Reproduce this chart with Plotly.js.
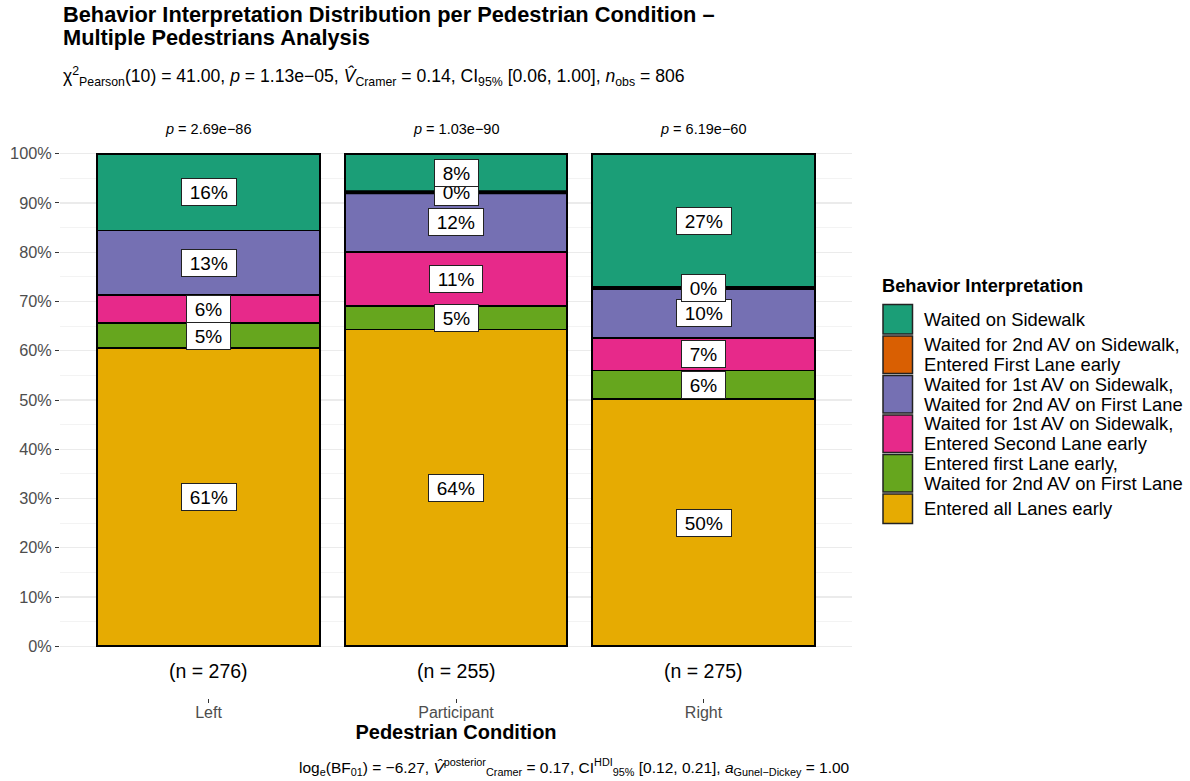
<!DOCTYPE html>
<html>
<head>
<meta charset="utf-8">
<script src="https://cdn.plot.ly/plotly-3.0.1.min.js"></script>
<style>html,body{margin:0;padding:0;background:#fff;}</style>
</head>
<body>
<div id="chart" style="width:1190px;height:781px;"></div>
<script>
// Pedestrian conditions on the x axis
const conditions = ['Left', 'Participant', 'Right'];

// Behaviour categories, stacked bottom to top ("\n" marks a line break in the legend)
const behaviours = [
  'Entered all Lanes early',
  'Entered first Lane early,\nWaited for 2nd AV on First Lane',
  'Waited for 1st AV on Sidewalk,\nEntered Second Lane early',
  'Waited for 1st AV on Sidewalk,\nWaited for 2nd AV on First Lane',
  'Waited for 2nd AV on Sidewalk,\nEntered First Lane early',
  'Waited on Sidewalk'
];

// Counts per condition (Left, Participant, Right); null = category not observed in that condition
const enteredAllLanesEarly      = [167, 164, 138];
const enteredFirstLaneEarly     = [14, 12, 16];
const enteredSecondLaneEarly    = [16, 28, 18];
const waitedFirstAvFirstLane    = [36, 31, 28];
const waitedSecondAvSidewalk    = [null, 0, 0];
const waitedOnSidewalk          = [43, 20, 75];

// One-sample proportion tests per condition
const pValues = ['2.69e\u221286', '1.03e\u221290', '6.19e\u221260'];

// Dark2 colours, same order as behaviours
const colours = ['#E6AB02', '#66A61E', '#E7298A', '#7570B3', '#D95F02', '#1B9E77'];

const countsByBehaviour = [
  enteredAllLanesEarly, enteredFirstLaneEarly, enteredSecondLaneEarly,
  waitedFirstAvFirstLane, waitedSecondAvSidewalk, waitedOnSidewalk
];

const totals = conditions.map((_, i) => countsByBehaviour.reduce((s, arr) => s + (arr[i] || 0), 0));
const xs = conditions.map((_, i) => i);
const BAR_W = 0.9;

// page geometry
const W = 1190, H = 781;
const M = {l: 60, r: 338, t: 102, b: 83};
const PW = W - M.l - M.r, PH = H - M.t - M.b;
const px = X => (X - M.l) / PW;
const py = Y => (H - M.b - Y) / PH;

const FONT = 'Liberation Sans, Arial, sans-serif';

const traces = [];
const annotations = [];
const cumulative = conditions.map(() => 0);
const zeroX = [], zeroY = [];

countsByBehaviour.forEach((counts, j) => {
  const share = counts.map((c, i) => (c === null ? null : c / totals[i]));
  traces.push({
    type: 'bar',
    x: xs,
    y: share,
    width: BAR_W,
    name: behaviours[j].replace('\n', ' '),
    marker: {color: colours[j], line: {color: '#000000', width: 1.8}},
    showlegend: false,
    hoverinfo: 'skip'
  });
  share.forEach((s, i) => {
    if (s === null) return;
    const mid = cumulative[i] + s / 2;
    annotations.push({
      xref: 'x', yref: 'y', x: i, y: mid,
      text: ' ' + Math.round(s * 100) + '% ',
      showarrow: false,
      font: {family: FONT, size: 19, color: '#000'},
      bgcolor: '#FFFFFF', bordercolor: '#222222', borderwidth: 1, borderpad: 2.5,
      xanchor: 'center', yanchor: 'middle'
    });
    if (counts[i] === 0) {
      zeroX.push(i - BAR_W / 2, i + BAR_W / 2, null);
      zeroY.push(cumulative[i], cumulative[i], null);
    }
    cumulative[i] += s;
  });
});

// empty categories collapse to a single outline edge
traces.push({
  type: 'scatter', mode: 'lines', x: zeroX, y: zeroY,
  line: {color: '#000000', width: 4}, showlegend: false, hoverinfo: 'skip'
});

// p-values above and sample sizes below each bar
conditions.forEach((c, i) => {
  annotations.push({
    xref: 'x', yref: 'y', x: i, y: 1.05,
    text: '<i>p</i> = ' + pValues[i], showarrow: false,
    font: {family: FONT, size: 14.5, color: '#000'}, xanchor: 'center', yanchor: 'middle'
  });
  annotations.push({
    xref: 'x', yref: 'y', x: i, y: -0.05,
    text: '(n = ' + totals[i] + ')', showarrow: false,
    font: {family: FONT, size: 19.5, color: '#000'}, xanchor: 'center', yanchor: 'middle'
  });
});

// titles
const headerLines = [
  {text: '<b>Behavior Interpretation Distribution per Pedestrian Condition \u2013</b>', y: 14.7, size: 21.8},
  {text: '<b>Multiple Pedestrians Analysis</b>', y: 38, size: 21.8},
  {text: '\u03c7<sup>2</sup><sub>Pearson</sub>(10) = 41.00, <i>p</i> = 1.13e\u221205, <i>V\u0302</i><sub>Cramer</sub> = 0.14, CI<sub>95%</sub> [0.06, 1.00], <i>n</i><sub>obs</sub> = 806', y: 76, size: 17.6}
];
headerLines.forEach(h => annotations.push({
  xref: 'paper', yref: 'paper', x: px(61), y: py(h.y), text: h.text, showarrow: false,
  font: {family: FONT, size: h.size, color: '#000'}, xanchor: 'left', yanchor: 'middle'
}));

// caption, right-aligned to the panel
annotations.push({
  xref: 'paper', yref: 'paper', x: 1, y: py(767),
  text: 'log<sub>e</sub>(BF<sub>01</sub>) = \u22126.27, <i>V\u0302</i><sup>posterior</sup><sub>Cramer</sub> = 0.17, CI<sup>HDI</sup><sub>95%</sub> [0.12, 0.21], <i>a</i><sub>Gunel\u2212Dickey</sub> = 1.00',
  showarrow: false, font: {family: FONT, size: 15.5, color: '#000'}, xanchor: 'right', yanchor: 'middle'
});

// legend, top entry first
const shapes = [];
annotations.push({
  xref: 'paper', yref: 'paper', x: px(880.5), y: py(285),
  text: '<b>Behavior Interpretation</b>', showarrow: false,
  font: {family: FONT, size: 18.3, color: '#000'}, xanchor: 'left', yanchor: 'middle'
});
let keyTop = 304.5;
for (let j = behaviours.length - 1; j >= 0; j--) {
  const lines = behaviours[j].split('\n');
  const h = lines.length > 1 ? 37.5 : 29.5;
  shapes.push({
    type: 'rect', xref: 'paper', yref: 'paper',
    x0: px(883), x1: px(912.5), y0: py(keyTop), y1: py(keyTop + h),
    fillcolor: colours[j], line: {color: '#222222', width: 1.5}
  });
  const centre = keyTop + h / 2;
  lines.forEach((ln, k) => {
    const off = lines.length > 1 ? (k === 0 ? -9.8 : 9.8) : 0;
    annotations.push({
      xref: 'paper', yref: 'paper', x: px(921.5), y: py(centre + off),
      text: ln, showarrow: false,
      font: {family: FONT, size: 18.4, color: '#000'}, xanchor: 'left', yanchor: 'middle'
    });
  });
  keyTop += h + 2;
}

const yTicks = [0, 0.1, 0.2, 0.3, 0.4, 0.5, 0.6, 0.7, 0.8, 0.9, 1];
const yMinor = [0.05, 0.15, 0.25, 0.35, 0.45, 0.55, 0.65, 0.75, 0.85, 0.95];

const layout = {
  width: W, height: H,
  margin: M,
  paper_bgcolor: '#FFFFFF', plot_bgcolor: '#FFFFFF',
  barmode: 'stack', bargap: 0,
  font: {family: FONT, color: '#000'},
  xaxis: {
    range: [-0.6, 2.6], tickvals: xs, ticktext: conditions,
    showgrid: false, zeroline: false, showline: false,
    ticks: 'outside', ticklen: 4, tickwidth: 1, tickcolor: '#333333',
    ticklabelstandoff: -4,
    tickfont: {family: FONT, size: 16, color: '#4D4D4D'},
    title: {text: 'Pedestrian Condition', font: {family: FONT, size: 20, color: '#000', weight: 'bold'}, standoff: 1}
  },
  yaxis: {
    range: [-0.105, 1.105], tickvals: yTicks,
    ticktext: yTicks.map(v => Math.round(v * 100) + '%'),
    showgrid: true, gridcolor: '#EBEBEB', gridwidth: 1.2,
    minor: {tickvals: yMinor, showgrid: true, gridcolor: '#F0F0F0', gridwidth: 0.8, ticks: ''},
    zeroline: false, showline: false,
    ticks: 'outside', ticklen: 4, tickwidth: 1, tickcolor: '#333333',
    tickfont: {family: FONT, size: 16.3, color: '#4D4D4D'}
  },
  annotations: annotations,
  shapes: shapes
};

Plotly.newPlot('chart', traces, layout, {displayModeBar: false, staticPlot: true});
</script>
</body>
</html>
